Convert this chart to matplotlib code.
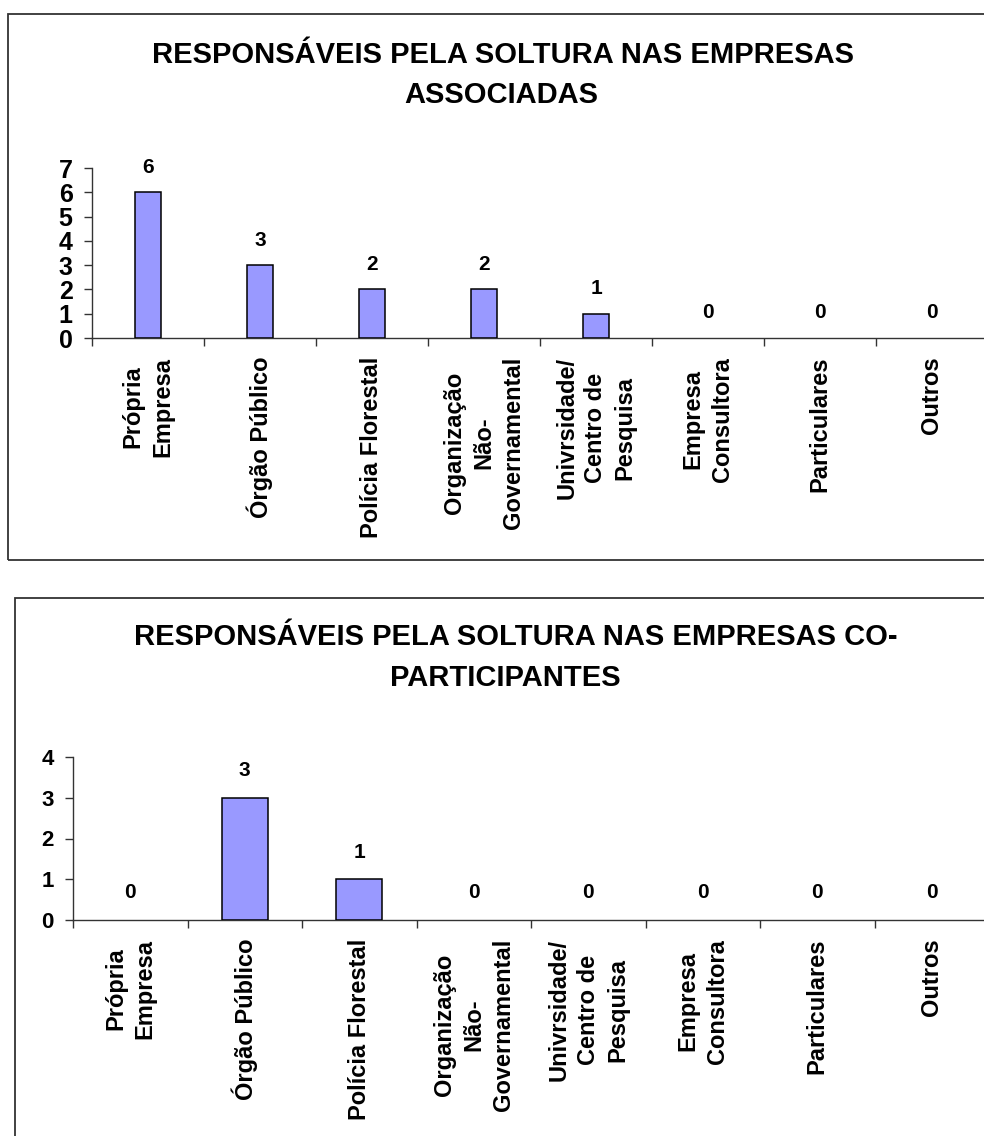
import matplotlib
matplotlib.use('Agg')
import matplotlib.pyplot as plt
from matplotlib.patches import Rectangle
import numpy as np

plt.rcParams['font.family'] = ['Liberation Sans', 'DejaVu Sans']
plt.rcParams['font.weight'] = 'bold'

# dados
categorias = [
    'Própria\nEmpresa',
    'Órgão Público',
    'Polícia Florestal',
    'Organização\nNão-\nGovernamental',
    'Univrsidade/\nCentro de\nPesquisa',
    'Empresa\nConsultora',
    'Particulares',
    'Outros',
]
associadas = [6, 3, 2, 2, 1, 0, 0, 0]
coparticipantes = [0, 3, 1, 0, 0, 0, 0, 0]

titulo_1 = ['RESPONSÁVEIS PELA SOLTURA NAS EMPRESAS', 'ASSOCIADAS']
titulo_2 = ['RESPONSÁVEIS PELA SOLTURA NAS EMPRESAS CO-', 'PARTICIPANTES']

W, H = 984, 1136
fig = plt.figure(figsize=(W / 100, H / 100), dpi=100)


def fx(px):
    return px / W


def fy(py):
    return 1 - py / H


# molduras dos dois gráficos
fig.patches.append(Rectangle((fx(8), fy(560)), fx(1010 - 8), (560 - 14) / H,
                             transform=fig.transFigure, fill=False,
                             edgecolor='#333333', lw=1.3))
fig.patches.append(Rectangle((fx(15), fy(1160)), fx(1010 - 15), (1160 - 598) / H,
                             transform=fig.transFigure, fill=False,
                             edgecolor='#333333', lw=1.3))


def grafico(rect, valores, ymax, bar_w, tick_fs, lbl_off, titulo, tpos):
    ax = fig.add_axes(rect)
    x = np.arange(len(valores))
    ax.bar(x, valores, width=bar_w, color='#9999FF', edgecolor='black',
           linewidth=[1.1 if v else 0 for v in valores], zorder=3)
    for i, v in enumerate(valores):
        ax.annotate(str(v), (i, v), xytext=(0, lbl_off), textcoords='offset points',
                    ha='center', va='center', fontsize=15, fontweight='bold')
    ax.set_xlim(-0.5, len(valores) - 0.5)
    ax.set_ylim(0, ymax)
    ax.set_yticks(range(ymax + 1))
    ax.set_xticks(x)
    ax.set_xticklabels(categorias, rotation=90, multialignment='center',
                       linespacing=1.35, fontsize=17, fontweight='bold')
    ax.set_xticks(np.arange(-0.5, len(valores), 1), minor=True)
    ax.tick_params(axis='x', which='major', length=0, pad=13.5)
    ax.tick_params(axis='x', which='minor', length=5.5, width=1, direction='out', color='#333333')
    ax.tick_params(axis='y', length=5.5, width=1, direction='out', pad=8.5,
                   labelsize=tick_fs, color='#333333')
    for t in ax.get_yticklabels():
        t.set_fontweight('bold')
    for s in ['top', 'right']:
        ax.spines[s].set_visible(False)
    for s in ['left', 'bottom']:
        ax.spines[s].set_color('#333333')
        ax.spines[s].set_linewidth(1)
    for (cx, by), linha in zip(tpos, titulo):
        fig.text(fx(cx), fy(by), linha, ha='center', va='baseline',
                 fontsize=21, fontweight='bold')
    return ax


grafico([fx(92), fy(338), fx(896), 170 / H], associadas, 7, 0.24, 18, 18,
        titulo_1, [(503, 63), (501, 103)])
grafico([fx(73), fy(920), fx(916), 163 / H], coparticipantes, 4, 0.40, 16, 19.5,
        titulo_2, [(516, 645), (505, 686)])

plt.savefig('out.png', dpi=100)
